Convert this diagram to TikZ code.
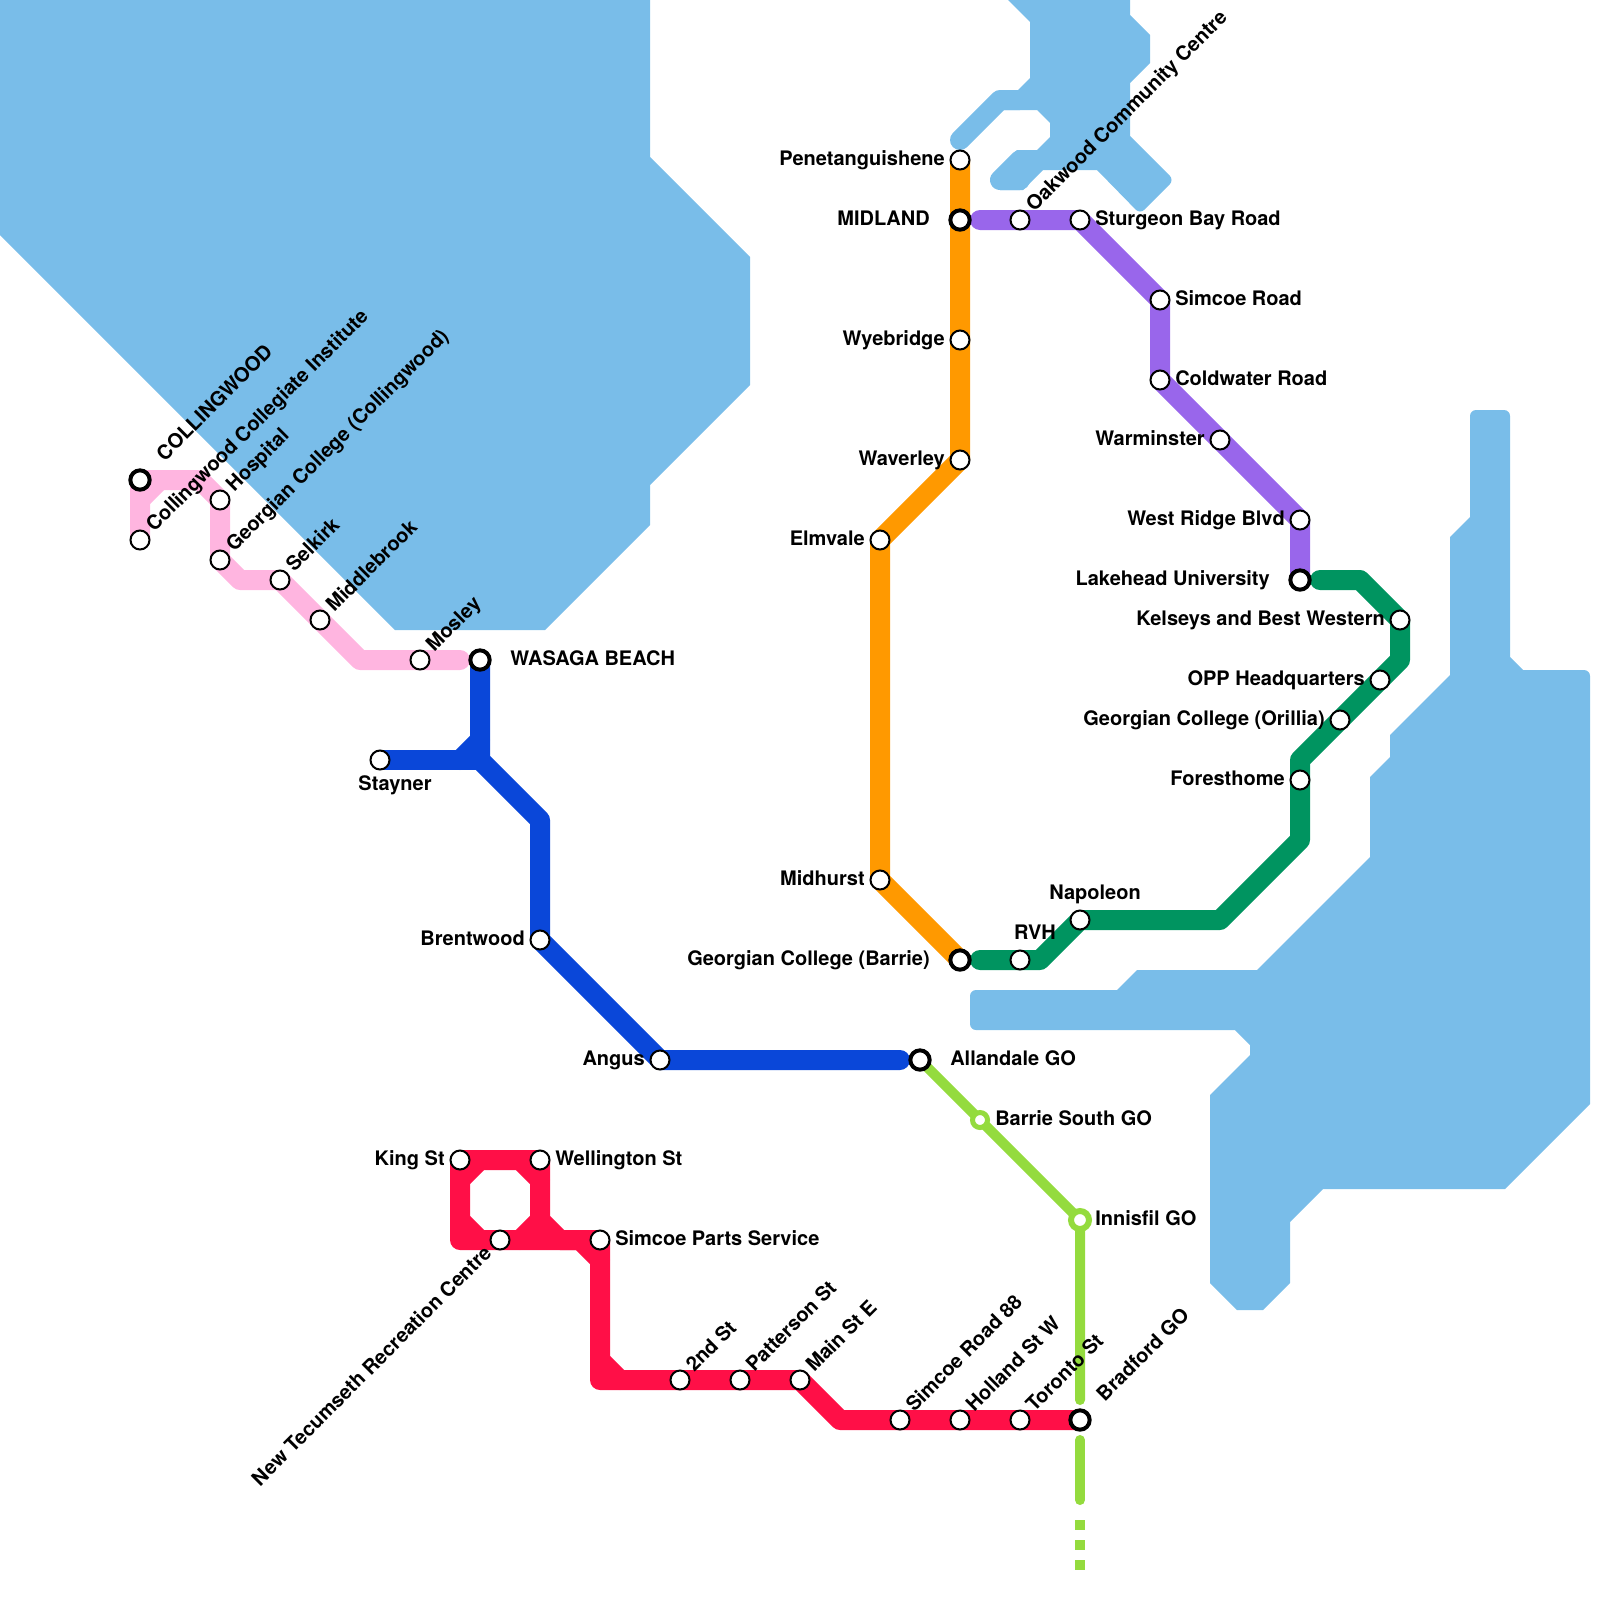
\documentclass[tikz,border=0pt]{standalone}
\usepackage{fontspec}
\setmainfont{TeX Gyre Heros}
\usetikzlibrary{backgrounds}
\definecolor{lake}{HTML}{79BDE9}
\definecolor{rosepink}{HTML}{FFB5E0}
\definecolor{royal}{HTML}{0A47D9}
\definecolor{crimson}{HTML}{FF0F47}
\definecolor{amber}{HTML}{FF9900}
\definecolor{violet}{HTML}{9966EB}
\definecolor{pine}{HTML}{009460}
\definecolor{lime}{HTML}{94DB3E}
\tikzset{
  water/.style={fill=lake},
  inlet/.style={draw=lake,line width=15pt,line cap=round,line join=round},
  route/.style={line width=15pt,line cap=round,line join=round},
  goline/.style={draw=lime,line width=7.5pt,line cap=round},
  stn/.style={circle,draw=black,fill=white,line width=1.5pt,inner sep=0pt,
              minimum size=14.25pt},
  hub/.style={circle,draw=black,fill=white,line width=3pt,inner sep=0pt,
              minimum size=14.5pt},
  gostn/.style={circle,draw=lime,fill=white,line width=3.75pt,inner sep=0pt,
                minimum size=11.25pt},
  goend/.style={circle,draw=lime,fill=white,line width=4.5pt,inner sep=0pt,
                minimum size=13.5pt},
  lbl/.style={inner sep=0pt,font=\bfseries\fontsize{15}{17}\selectfont},
  lblr/.style={lbl,anchor=base west},
  lbll/.style={lbl,anchor=base east},
  lbld/.style={lbl,anchor=base west,rotate=45},
  lblb/.style={lbl,anchor=base east,rotate=45}
}
\begin{document}
\begin{tikzpicture}[x=0.75pt,y=-0.75pt]
    \path[use as bounding box] (0,0) rectangle (1600,1600);

    \foreach \nm/\xx/\yy in {collinst/140/540,hospital/220/500,geocoll/220/560,
                             selkirk/280/580,middlebrook/320/620,mosley/420/660,
                             stayner/380/760,brentwood/540/940,angus/660/1060,
                             penet/960/160,wyebridge/960/340,waverley/960/460,
                             elmvale/880/540,midhurst/880/880,oakwood/1020/220,
                             sturgeon/1080/220,simcoerd/1160/300,coldwater/1160/380,
                             warminster/1220/440,westridge/1300/520,kelseys/1400/620,
                             opp/1380/680,geoorillia/1340/720,foresthome/1300/780,
                             napoleon/1080/920,rvh/1020/960,king/460/1160,
                             wellington/540/1160,tecumseth/500/1240,simcoeparts/600/1240,
                             second/680/1380,patterson/740/1380,mainst/800/1380,
                             road88/900/1420,holland/960/1420,toronto/1020/1420}{
      \node[stn] (\nm) at (\xx,\yy) {};
    }
    \foreach \nm/\xx/\yy in {coll/140/480,wasaga/480/660,midland/960/220,
                             geobarrie/960/960,lakehead/1300/580,
                             allandale/920/1060,bradford/1080/1420}{
      \node[hub] (\nm) at (\xx,\yy) {};
    }
    \node[gostn] (barriesouth) at (980,1120) {};
    \node[goend] (innisfil) at (1080,1220) {};

    \foreach \nm/\dx/\txt in {wasaga/30/WASAGA BEACH,allandale/30/Allandale GO,
                              barriesouth/15/Barrie South GO,innisfil/15/Innisfil GO,
                              sturgeon/15/Sturgeon Bay Road,simcoerd/15/Simcoe Road,
                              coldwater/15/Coldwater Road,wellington/15/Wellington St,
                              simcoeparts/15/Simcoe Parts Service}{
      \node[lblr] (t\nm) at ([shift={(\dx,5)}]\nm.center) {\txt};
    }
    \foreach \nm/\dx/\txt in {penet/15/Penetanguishene,midland/30/MIDLAND,
                              wyebridge/15/Wyebridge,waverley/15/Waverley,
                              elmvale/15/Elmvale,midhurst/15/Midhurst,
                              geobarrie/30/Georgian College (Barrie),
                              brentwood/15/Brentwood,angus/15/Angus,king/15/King St,
                              warminster/15/Warminster,westridge/15/West Ridge Blvd,
                              lakehead/30/Lakehead University,
                              kelseys/15/Kelseys and Best Western,
                              opp/15/OPP Headquarters,
                              geoorillia/15/Georgian College (Orillia),
                              foresthome/15/Foresthome}{
      \node[lbll] (t\nm) at ([shift={(-\dx,5)}]\nm.center) {\txt};
    }
    \foreach \nm/\dd/\txt in {coll/30/COLLINGWOOD,
                              collinst/15/Collingwood Collegiate Institute,
                              hospital/15/Hospital,
                              geocoll/15/Georgian College (Collingwood),
                              selkirk/15/Selkirk,middlebrook/15/Middlebrook,
                              mosley/15/Mosley,oakwood/15/Oakwood Community Centre,
                              second/15/2nd St,patterson/15/Patterson St,
                              mainst/15/Main St E,road88/15/Simcoe Road 88,
                              holland/15/Holland St W,toronto/15/Toronto St,
                              bradford/30/Bradford GO}{
      \node[lbld] (t\nm) at ([shift={({\dd*0.707+3.5},{-\dd*0.707+3.5})}]\nm.center) {\txt};
    }
    \node[lblb] (ttecumseth) at ([shift={(-7.1,14.1)}]tecumseth.center)
      {New Tecumseth Recreation Centre};
    \node[lbl,anchor=base] (tstayner) at ([shift={(15,30)}]stayner.center) {Stayner};
    \node[lbl,anchor=base] (tnapoleon) at ([shift={(15,-21)}]napoleon.center) {Napoleon};
    \node[lbl,anchor=base] (trvh) at ([shift={(15,-21)}]rvh.center) {RVH};

    \foreach \nm/\xx/\yy in {pk1/140/500,pk2/160/480,pk3/200/480,pk4/240/580,
                             pk5/360/660,pk6/460/660,
                             bl1/480/740,bl2/460/760,bl3/480/760,bl4/540/820,bl5/900/1060,
                             vi1/980/220,
                             pn1/1320/580,pn2/1360/580,pn3/1400/660,pn4/1300/760,
                             pn5/1300/840,pn6/1220/920,pn7/1040/960,pn8/980/960,
                             cr1/460/1180,cr2/480/1160,cr3/520/1160,cr4/540/1180,
                             cr5/540/1220,cr6/520/1240,cr7/480/1240,cr8/460/1220,
                             cr9/560/1240,cr10/580/1240,cr11/600/1260,cr12/460/1240,
                             cr13/600/1360,cr14/620/1380,cr15/600/1380,cr16/840/1420,
                             li1/1080/1400,li2/1080/1440,li3/1080/1500,
                             li4/1080/1520,li5/1080/1570}{
      \coordinate (\nm) at (\xx,\yy);
    }

    \begin{scope}[on background layer]
      % water
      \fill[water] (-10,-10) -- (650,-10) -- (650,157) -- (750,257) -- (750,385)
        -- (650,485) -- (650,525) -- (545,630) -- (395,630) -- (-10,225) -- cycle;
      \fill[water] (998,-10) -- (1030,22) -- (1030,78) -- (1018,90) -- (1000,90)
        -- (1000,110) -- (1037,110) -- (1050,123) -- (1050,137) -- (1037,150)
        -- (1017,150) -- (1000,167) -- (1000,190) -- (1023,190) -- (1043,170)
        -- (1097,170) [rounded corners=4.5pt] -- (1140,214) -- (1174,180) [sharp corners]
        -- (1130,136) -- (1130,83) -- (1150,63) -- (1150,35) -- (1130,15)
        -- (1130,-10) -- cycle;
      \draw[inlet] (960,140) -- (1000,100) -- (1020,100);
      \draw[inlet] (1020,180) -- (1000,180) -- (1020,160);
      \fill[water] (1470,517) [rounded corners=4.5pt] -- (1470,410) -- (1510,410) [sharp corners]
        -- (1510,657) -- (1523,670) [rounded corners=4.5pt] -- (1590,670) [sharp corners]
        -- (1590,1104) -- (1505,1189) -- (1323,1189) -- (1290,1222) -- (1290,1283)
        -- (1263,1310) -- (1237,1310) -- (1210,1283) -- (1210,1095) -- (1250,1055)
        -- (1250,1045) -- (1235,1030) [rounded corners=4.5pt] -- (970,1030) -- (970,990) [sharp corners]
        -- (1117,990) -- (1137,970) -- (1257,970) -- (1370,857) -- (1370,777)
        -- (1390,757) -- (1390,735) -- (1450,675) -- (1450,537) -- cycle;

      % routes
      \draw[route,rosepink] (collinst.center) -- (coll.center) -- (pk3)
        -- (hospital.center) -- (geocoll.center) -- (pk4) -- (selkirk.center)
        -- (middlebrook.center) -- (pk5) -- (mosley.center) -- (pk6);
      \draw[route,rosepink] (pk1) -- (pk2);

      \draw[route,amber] (penet.center) -- (midland.center) -- (wyebridge.center)
        -- (waverley.center) -- (elmvale.center) -- (midhurst.center)
        -- (geobarrie.center);

      \draw[route,royal] (wasaga.center) -- (bl3) -- (bl4) -- (brentwood.center)
        -- (angus.center) -- (bl5);
      \draw[route,royal] (stayner.center) -- (bl3);
      \draw[route,royal] (bl2) -- (bl1);

      \draw[route,violet] (vi1) -- (oakwood.center) -- (sturgeon.center)
        -- (simcoerd.center) -- (coldwater.center) -- (warminster.center)
        -- (westridge.center) -- (lakehead.center);

      \draw[route,pine] (pn1) -- (pn2) -- (kelseys.center) -- (pn3) -- (opp.center)
        -- (geoorillia.center) -- (pn4) -- (foresthome.center) -- (pn5) -- (pn6)
        -- (napoleon.center) -- (pn7) -- (rvh.center) -- (pn8);

      \draw[route,crimson] (king.center) -- (wellington.center) -- (cr5) -- (cr9)
        -- (simcoeparts.center) -- (cr15) -- (mainst.center) -- (cr16)
        -- (bradford.center);
      \draw[route,crimson] (king.center) -- (cr12) -- (cr10) -- (cr11);
      \draw[route,crimson] (cr1) -- (cr2);
      \draw[route,crimson] (cr3) -- (cr4);
      \draw[route,crimson] (cr5) -- (cr6);
      \draw[route,crimson] (cr7) -- (cr8);
      \draw[route,crimson] (cr13) -- (cr14);

      \draw[goline] (allandale.center) -- (barriesouth.center) -- (innisfil.center)
        -- (li1);
      \draw[goline] (li2) -- (li3);
      \draw[goline,line cap=butt,dash pattern=on 7.5pt off 7.5pt] (li4) -- (li5);
    \end{scope}
\end{tikzpicture}
\end{document}
